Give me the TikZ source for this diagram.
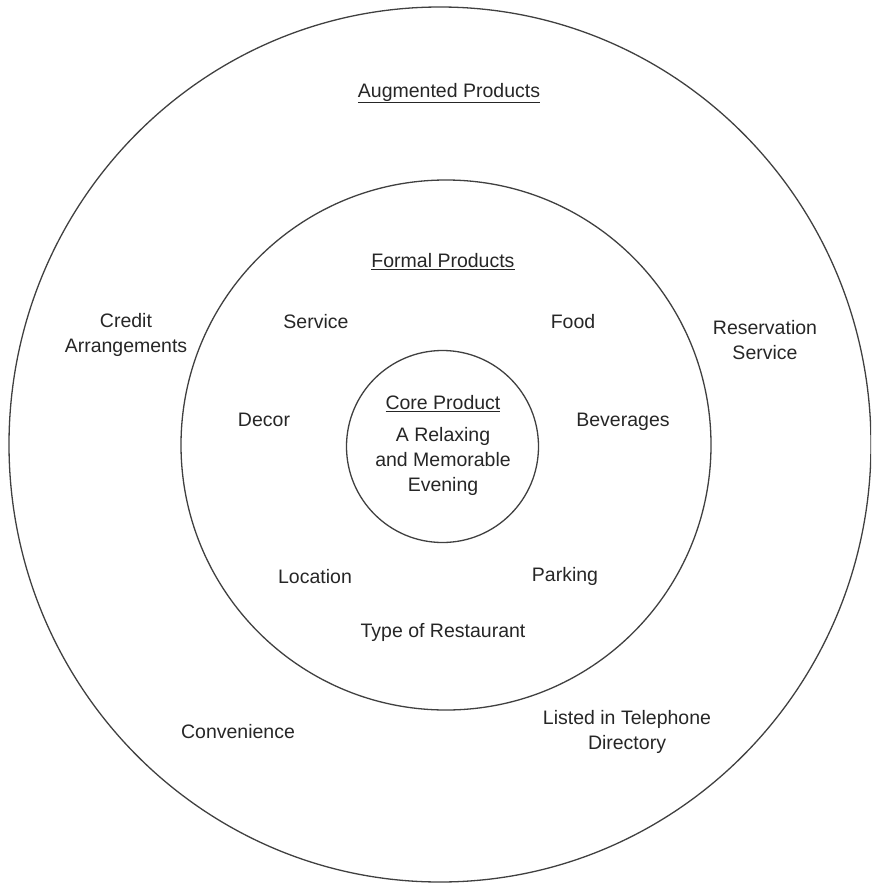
\documentclass[tikz,border=0pt]{standalone}
\usepackage{fontspec}
\setmainfont{Liberation Sans}
\begin{document}
\begin{tikzpicture}[x=1pt,y=-1pt,
  lbl/.style={font=\fontsize{19.5}{25}\selectfont, align=center, text=black!85, inner sep=0pt},
  ring/.style={draw=black!75, line width=1.3pt}]
\useasboundingbox (0,0) rectangle (871,886);
\begin{scope}
\clip (0,0) rectangle (871,886);
\draw[ring] (440,444.5) ellipse [x radius=431, y radius=437.5];
\end{scope}
\node[ring, circle, minimum size=530, inner sep=0pt] (formal) at (446,445) {};
\node[ring, circle, minimum size=192, inner sep=0pt] (core) at (442.5,446.5) {};
\node[lbl] (aug) at (449,93) {\underline{Augmented Products}};
\node[lbl] (fp) at (443,262) {\underline{Formal Products}};
\node[lbl] (cp) at (443,404) {\underline{Core Product}};
\node[lbl] (eve) at (443,461) {A Relaxing\\and Memorable\\Evening};
\node[lbl] (service) at (316,322) {Service};
\node[lbl] (food) at (573,322) {Food};
\node[lbl] (credit) at (126,335) {Credit\\Arrangements};
\node[lbl] (res) at (765,340) {Reservation\\Service};
\node[lbl] (decor) at (264,420) {Decor};
\node[lbl] (bev) at (623,422) {Beverages};
\node[lbl] (loc) at (315,577) {Location};
\node[lbl] (park) at (565,576) {Parking};
\node[lbl] (type) at (443,632) {Type of Restaurant};
\node[lbl] (conv) at (238,732) {Convenience};
\node[lbl] (tel) at (627,732) {Listed in Telephone\\Directory};
\end{tikzpicture}
\end{document}
